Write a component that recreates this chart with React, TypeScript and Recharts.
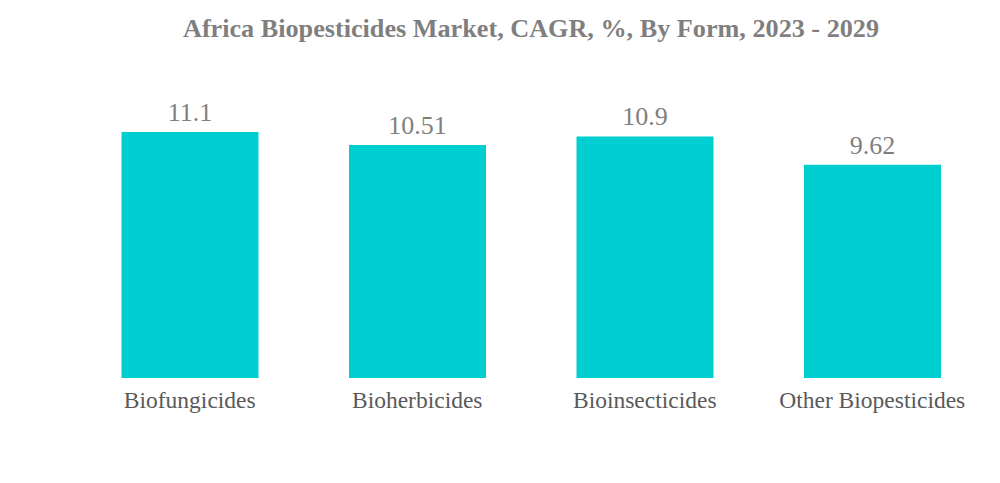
import { BarChart, Bar, XAxis, YAxis, LabelList } from 'recharts';

// Chart data
const categories = ['Biofungicides', 'Bioherbicides', 'Bioinsecticides', 'Other Biopesticides'];
const cagrValues = [11.1, 10.51, 10.9, 9.62];

const TITLE = 'Africa Biopesticides Market, CAGR, %, By Form, 2023 - 2029';
const BAR_COLOR = '#00CED1';
const FONT = '"Liberation Serif", "Times New Roman", serif';

const data = categories.map((name, i) => ({ name, value: cagrValues[i] }));

export default function App() {
  return (
    <div style={{ position: 'absolute', left: 0, top: 0, width: 1000, height: 483, background: '#fff' }}>
      <div
        style={{
          position: 'absolute',
          left: 0,
          top: 12,
          width: 1062,
          textAlign: 'center',
          fontFamily: FONT,
          fontWeight: 'bold',
          fontSize: 26.2,
          color: '#7f7f7f',
          lineHeight: '34px',
        }}
      >
        {TITLE}
      </div>
      <BarChart
        width={1000}
        height={483}
        data={data}
        margin={{ top: 132, right: 14, bottom: 75, left: 76 }}
        barCategoryGap="20%"
      >
        <XAxis
          dataKey="name"
          axisLine={false}
          tickLine={false}
          height={30}
          tickMargin={7}
          interval={0}
          tick={{ fill: '#595959', fontSize: 23.5, fontFamily: FONT }}
        />
        <YAxis hide domain={[0, 11.1]} />
        <Bar dataKey="value" fill={BAR_COLOR} isAnimationActive={false}>
          <LabelList
            dataKey="value"
            position="top"
            offset={11}
            fill="#7f7f7f"
            fontSize={26}
            fontFamily={FONT}
          />
        </Bar>
      </BarChart>
    </div>
  );
}
